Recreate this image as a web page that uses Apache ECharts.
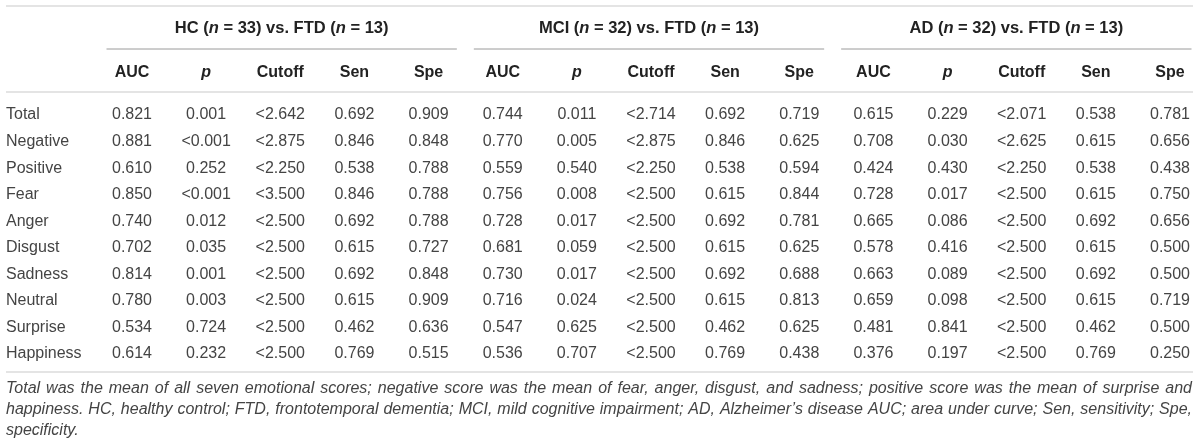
<!DOCTYPE html>
<html>
<head>
<meta charset="utf-8">
<title>ROC results table</title>
<script src="https://cdn.jsdelivr.net/npm/echarts@6.0.0/dist/echarts.min.js"></script>
<style>
  html, body { margin: 0; padding: 0; background: #fff; }
  #tableChart { width: 1200px; height: 445px; }
</style>
</head>
<body>
<div id="tableChart"></div>
<script>
// rows and headers
var rowLabels = ['Total', 'Negative', 'Positive', 'Fear', 'Anger', 'Disgust', 'Sadness', 'Neutral', 'Surprise', 'Happiness'];
var groupNames = ['HC', 'MCI', 'AD'];
var groupN = [33, 32, 32];
var ftdN = 13;
var colHeads = ['AUC', 'p', 'Cutoff', 'Sen', 'Spe'];

// HC vs FTD
var hcAuc = [0.821, 0.881, 0.610, 0.850, 0.740, 0.702, 0.814, 0.780, 0.534, 0.614];
var hcP = ['0.001', '<0.001', '0.252', '<0.001', '0.012', '0.035', '0.001', '0.003', '0.724', '0.232'];
var hcCutoff = [2.642, 2.875, 2.250, 3.500, 2.500, 2.500, 2.500, 2.500, 2.500, 2.500];
var hcSen = [0.692, 0.846, 0.538, 0.846, 0.692, 0.615, 0.692, 0.615, 0.462, 0.769];
var hcSpe = [0.909, 0.848, 0.788, 0.788, 0.788, 0.727, 0.848, 0.909, 0.636, 0.515];

// MCI vs FTD
var mciAuc = [0.744, 0.770, 0.559, 0.756, 0.728, 0.681, 0.730, 0.716, 0.547, 0.536];
var mciP = ['0.011', '0.005', '0.540', '0.008', '0.017', '0.059', '0.017', '0.024', '0.625', '0.707'];
var mciCutoff = [2.714, 2.875, 2.250, 2.500, 2.500, 2.500, 2.500, 2.500, 2.500, 2.500];
var mciSen = [0.692, 0.846, 0.538, 0.615, 0.692, 0.615, 0.692, 0.615, 0.462, 0.769];
var mciSpe = [0.719, 0.625, 0.594, 0.844, 0.781, 0.625, 0.688, 0.813, 0.625, 0.438];

// AD vs FTD
var adAuc = [0.615, 0.708, 0.424, 0.728, 0.665, 0.578, 0.663, 0.659, 0.481, 0.376];
var adP = ['0.229', '0.030', '0.430', '0.017', '0.086', '0.416', '0.089', '0.098', '0.841', '0.197'];
var adCutoff = [2.071, 2.625, 2.250, 2.500, 2.500, 2.500, 2.500, 2.500, 2.500, 2.500];
var adSen = [0.538, 0.615, 0.538, 0.615, 0.692, 0.615, 0.692, 0.615, 0.462, 0.769];
var adSpe = [0.781, 0.656, 0.438, 0.750, 0.656, 0.500, 0.500, 0.719, 0.500, 0.250];

var footLines = [
    'Total was the mean of all seven emotional scores; negative score was the mean of fear, anger, disgust, and sadness; positive score was the mean of surprise and',
    'happiness. HC, healthy control; FTD, frontotemporal dementia; MCI, mild cognitive impairment; AD, Alzheimer\u2019s disease AUC; area under curve; Sen, sensitivity; Spe,',
    'specificity.'
];

var FONT = '"Liberation Sans", Arial, Helvetica, sans-serif';
var TXT = '#444';
var BOLD = '#222';

function fmt3(v) { return v.toFixed(3); }

var groupCols = [
    [hcAuc, hcP, hcCutoff, hcSen, hcSpe],
    [mciAuc, mciP, mciCutoff, mciSen, mciSpe],
    [adAuc, adP, adCutoff, adSen, adSpe]
];

// x categories: 15 columns
var xCats = [];
groupNames.forEach(function (g) {
    colHeads.forEach(function (h) { xCats.push(g + '|' + h); });
});

// cells [col, row, text]
var cells = [];
groupCols.forEach(function (cols, gi) {
    cols.forEach(function (arr, ci) {
        arr.forEach(function (v, ri) {
            var t;
            if (ci === 1) t = v;
            else if (ci === 2) t = '<' + fmt3(v);
            else t = fmt3(v);
            cells.push([gi * 5 + ci, ri, t]);
        });
    });
});

var groupData = groupNames.map(function (g, i) { return [i, 0]; });

var chart = echarts.init(document.getElementById('tableChart'));

// justified footnote via measured words
var footFont = 'italic 16px ' + FONT;
var ctx = document.createElement('canvas').getContext('2d');
ctx.font = footFont;
var footLeft = 6, footRight = 1192, footTop = 389, footStep = 21;
var footEls = [];
footLines.forEach(function (line, li) {
    var words = line.split(' ');
    var y = footTop + li * footStep;
    var last = li === footLines.length - 1;
    var widths = words.map(function (w) { return ctx.measureText(w).width; });
    var total = widths.reduce(function (a, b) { return a + b; }, 0);
    var gap = last ? ctx.measureText(' ').width : (footRight - footLeft - total) / (words.length - 1);
    var x = footLeft;
    words.forEach(function (w, wi) {
        footEls.push({
            type: 'text', x: x, y: y, silent: true,
            style: { text: w, font: footFont, fill: TXT, verticalAlign: 'middle' }
        });
        x += widths[wi] + gap;
    });
});

var rules = [
    { y: 6, c: '#e4e4e4', w: 2 },
    { y: 92, c: '#e4e4e4', w: 2 },
    { y: 372, c: '#e4e4e4', w: 2 }
].map(function (r) {
    return {
        type: 'line', silent: true,
        shape: { x1: 6, y1: r.y, x2: 1193, y2: r.y },
        style: { stroke: r.c, lineWidth: r.w }
    };
});

var option = {
    animation: false,
    backgroundColor: '#fff',
    grid: [
        { left: 132, right: 30, top: 115, bottom: 91 },
        { left: 98, right: 0, top: 15, bottom: 396 }
    ],
    xAxis: [
        {
            type: 'category', gridIndex: 0, data: xCats, position: 'top', boundaryGap: false,
            axisLine: { show: false }, axisTick: { show: false }, splitLine: { show: false },
            axisLabel: {
                interval: 0, margin: 34, hideOverlap: false,
                formatter: function (v) {
                    var h = v.split('|')[1];
                    return h === 'p' ? '{i|p}' : '{b|' + h + '}';
                },
                rich: {
                    b: { fontFamily: FONT, fontSize: 16, fontWeight: 'bold', color: BOLD },
                    i: { fontFamily: FONT, fontSize: 16, fontWeight: 'bold', fontStyle: 'italic', color: BOLD }
                }
            }
        },
        {
            type: 'category', gridIndex: 1, data: groupNames, boundaryGap: true,
            axisLine: { show: false }, axisTick: { show: false }, axisLabel: { show: false }
        }
    ],
    yAxis: [
        {
            type: 'category', gridIndex: 0, data: rowLabels, inverse: true, boundaryGap: false,
            axisLine: { show: false }, axisTick: { show: false }, splitLine: { show: false },
            axisLabel: {
                interval: 0, margin: 126, align: 'left',
                fontFamily: FONT, fontSize: 16, color: TXT
            }
        },
        {
            type: 'value', gridIndex: 1, min: 0, max: 1, show: false
        }
    ],
    series: [
        {
            type: 'custom', xAxisIndex: 0, yAxisIndex: 0, data: cells, silent: true,
            encode: { x: 0, y: 1 },
            renderItem: function (params, api) {
                var p = api.coord([api.value(0), api.value(1)]);
                return {
                    type: 'text', x: p[0], y: p[1],
                    style: {
                        text: cells[params.dataIndex][2],
                        font: '16px ' + FONT, fill: TXT,
                        align: 'center', verticalAlign: 'middle'
                    }
                };
            }
        },
        {
            type: 'custom', xAxisIndex: 1, yAxisIndex: 1, data: groupData, silent: true,
            encode: { x: 0, y: 1 },
            renderItem: function (params, api) {
                var i = api.value(0);
                var base = api.coord([i, 0]);
                var top = api.coord([i, 1]);
                var band = api.size([1, 0])[0];
                var half = band / 2 - 8.5;
                var bf = 'bold 16.5px ' + FONT;
                var bif = 'italic bold 16.5px ' + FONT;
                return {
                    type: 'group',
                    children: [
                        {
                            type: 'line',
                            shape: { x1: base[0] - half, y1: base[1], x2: base[0] + half, y2: base[1] },
                            style: { stroke: '#9a9a9a', lineWidth: 1 }
                        },
                        {
                            type: 'text', x: base[0], y: top[1] + 13,
                            style: {
                                text: '{b|' + groupNames[i] + ' (}{i|n}{b| = ' + groupN[i] + ') vs. FTD (}{i|n}{b| = ' + ftdN + ')}',
                                align: 'center', verticalAlign: 'middle',
                                rich: {
                                    b: { font: bf, fill: BOLD },
                                    i: { font: bif, fill: BOLD }
                                }
                            }
                        }
                    ]
                };
            }
        }
    ],
    graphic: rules.concat(footEls)
};

chart.setOption(option, true);
</script>
</body>
</html>
